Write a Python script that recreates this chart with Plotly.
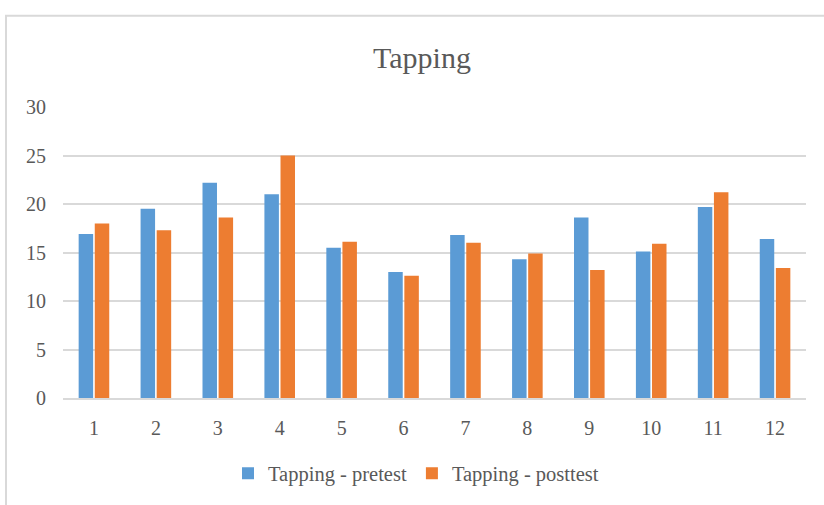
import plotly.graph_objects as go

categories = ["1", "2", "3", "4", "5", "6", "7", "8", "9", "10", "11", "12"]
pretest = [16.9, 19.5, 22.2, 21.0, 15.5, 13.0, 16.8, 14.3, 18.6, 15.1, 19.7, 16.4]
posttest = [18.0, 17.3, 18.6, 25.0, 16.1, 12.6, 16.0, 14.9, 13.2, 15.9, 21.2, 13.4]
y_ticks = [0, 5, 10, 15, 20, 25, 30]

W, H = 824, 505
L, R, T, B = 63, 18, 107, 105
pw, ph = W - L - R, H - T - B

font_family = "Liberation Serif, Times New Roman, serif"
text_color = "#595959"
grid_color = "#D9D9D9"

fig = go.Figure()
fig.add_trace(go.Bar(x=categories, y=pretest, name="Tapping - pretest",
                     marker=dict(color="#5B9BD5", line=dict(width=0))))
fig.add_trace(go.Bar(x=categories, y=posttest, name="Tapping - posttest",
                     marker=dict(color="#ED7D31", line=dict(width=0))))

# outer chart frame, extending past the right and bottom edges
fx0 = (6 - L) / pw
fy1 = (H - B - 15) / ph
fig.add_shape(type="rect", xref="paper", yref="paper",
              x0=fx0, x1=1.2, y0=-1.0, y1=fy1,
              line=dict(color=grid_color, width=2), fillcolor="rgba(0,0,0,0)",
              layer="below")

fig.update_layout(
    width=W, height=H,
    margin=dict(l=L, r=R, t=T, b=B),
    paper_bgcolor="white", plot_bgcolor="white",
    barmode="group", bargap=0.48, bargroupgap=0.1,
    title=dict(text="Tapping", x=422 / W, xanchor="center", xref="container",
               y=1 - 57 / H, yanchor="middle", yref="container",
               font=dict(family=font_family, size=30, color=text_color)),
    font=dict(family=font_family, color=text_color),
    xaxis=dict(showgrid=False, showline=True, linecolor=grid_color, linewidth=1.5,
               ticks="", tickfont=dict(size=20, color=text_color),
               ticklabelstandoff=11, fixedrange=True),
    yaxis=dict(range=[0, 30], tickvals=y_ticks, showgrid=True, gridcolor=grid_color,
               gridwidth=1.5, zeroline=False, showline=False, ticks="",
               tickfont=dict(size=20, color=text_color), ticklabelstandoff=16,
               fixedrange=True),
    legend=dict(orientation="h", x=(416 - L) / pw, xanchor="center",
                y=(H - B - 476) / ph, yanchor="middle",
                font=dict(size=20.5, color=text_color), bgcolor="rgba(0,0,0,0)",
                itemwidth=30, traceorder="normal"),
    showlegend=True,
)

fig.write_html("out.html")
